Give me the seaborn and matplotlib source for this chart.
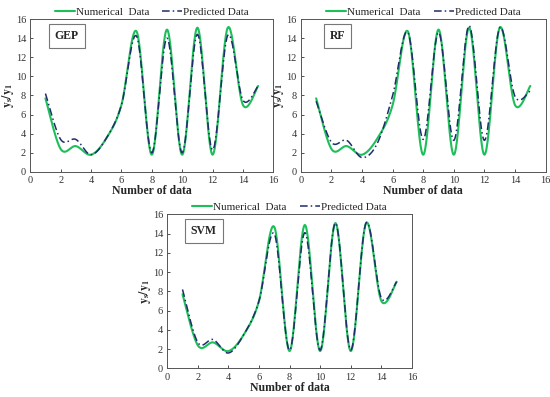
import numpy as np
import pandas as pd
import matplotlib
matplotlib.use("Agg")
import matplotlib.pyplot as plt
import seaborn as sns

# data (x = 1..15)
x_data = list(range(1, 16))
numerical = [7.7, 2.4, 2.7, 1.8, 3.5, 7.0, 14.7, 1.8, 14.9, 1.8, 15.1, 1.8, 15.1, 7.0, 9.0]
pred_gep = [8.2, 3.4, 3.4, 1.8, 3.5, 7.0, 14.2, 2.0, 14.0, 2.0, 14.4, 2.3, 14.3, 7.5, 9.0]
pred_rf = [7.4, 3.1, 3.3, 1.5, 3.0, 8.0, 14.6, 3.4, 14.6, 3.3, 15.3, 3.3, 15.1, 7.9, 8.5]
pred_svm = [8.2, 2.7, 3.0, 1.6, 3.5, 7.0, 14.0, 1.9, 14.1, 1.9, 15.1, 1.9, 15.1, 7.3, 9.0]
models = ["GEP", "RF", "SVM"]

green = "#1DBF5A"
navy = "#1F2D6B"


def smooth(xs, ys, n=30):
    """Excel-style smoothed line (Catmull-Rom bezier) for drawing only."""
    xs = np.asarray(xs, float)
    ys = np.asarray(ys, float)
    px = np.concatenate([[xs[0]], xs, [xs[-1]]])
    py = np.concatenate([[ys[0]], ys, [ys[-1]]])
    outx, outy = [], []
    t = np.linspace(0, 1, n)
    for i in range(1, len(px) - 2):
        p0 = np.array([px[i], py[i]])
        p3 = np.array([px[i + 1], py[i + 1]])
        p1 = p0 + (np.array([px[i + 1], py[i + 1]]) - np.array([px[i - 1], py[i - 1]])) / 6
        p2 = p3 - (np.array([px[i + 2], py[i + 2]]) - np.array([px[i], py[i]])) / 6
        b = ((1 - t) ** 3)[:, None] * p0 + (3 * (1 - t) ** 2 * t)[:, None] * p1 \
            + (3 * (1 - t) * t ** 2)[:, None] * p2 + (t ** 3)[:, None] * p3
        outx.extend(b[:, 0])
        outy.extend(b[:, 1])
    return np.array(outx), np.array(outy)


sns.set_theme(style="ticks")
plt.rcParams["font.family"] = ["Liberation Serif", "DejaVu Serif"]
plt.rcParams["mathtext.fontset"] = "stix"

fig = plt.figure(figsize=(5.5, 3.97), dpi=100)
positions = [
    [0.055, 0.567, 0.442, 0.385],
    [0.547, 0.567, 0.445, 0.385],
    [0.304, 0.072, 0.445, 0.388],
]
predictions = [pred_gep, pred_rf, pred_svm]

for name, pos, pred in zip(models, positions, predictions):
    ax = fig.add_axes(pos)
    nx, ny = smooth(x_data, numerical)
    qx, qy = smooth(x_data, pred)
    sns.lineplot(x=nx, y=ny, ax=ax, color=green, linewidth=1.5, sort=False,
                 estimator=None, label="Numerical  Data")
    sns.lineplot(x=qx, y=qy, ax=ax, color=navy, linewidth=1.1, sort=False,
                 estimator=None, label="Predicted Data", linestyle=(0, (5, 2, 1, 2)))
    ax.set_xlim(0, 16)
    ax.set_ylim(0, 16)
    ax.set_xticks(range(0, 17, 2))
    ax.set_yticks(range(0, 17, 2))
    ax.tick_params(labelsize=7.5, length=2, width=0.6, direction="in", pad=3,
                   colors="#333333")
    for s in ax.spines.values():
        s.set_visible(True)
        s.set_linewidth(0.7)
        s.set_color("#555555")
    ax.set_xlabel("Number of data", fontsize=8.5, fontweight="bold", labelpad=0)
    ax.set_ylabel(r"$\mathbf{y_s/y_1}$", fontsize=8.5, labelpad=0)
    ax.legend(loc="lower center", bbox_to_anchor=(0.5, 1.0), ncol=2, frameon=False,
              fontsize=8, handlelength=1.8, columnspacing=1.2, borderaxespad=0.1,
              handletextpad=0.1, borderpad=0.1)
    ax.text(0.15, 0.89, name, transform=ax.transAxes, ha="center", va="center",
            fontsize=8.5, fontweight="bold",
            bbox=dict(boxstyle="square,pad=0.5", fc="white", ec="#777777", lw=0.8))

fig.savefig("out.png", dpi=100)
